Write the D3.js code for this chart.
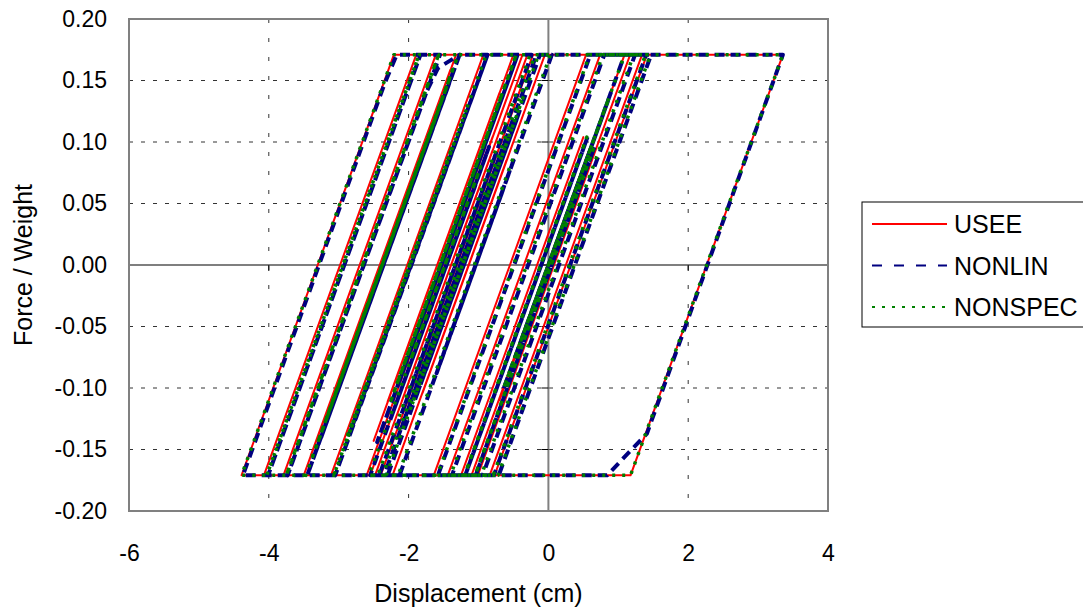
<!DOCTYPE html>
<html>
<head>
<meta charset="utf-8">
<script src="https://cdn.jsdelivr.net/npm/d3@7"></script>
<style>
  body { margin: 0; background: #fff; }
  text { font-family: "Liberation Sans", Arial, sans-serif; fill: #000; }
</style>
</head>
<body>
<script>
// axis ticks
const xTicks = [-6, -4, -2, 0, 2, 4];
const yTicks = [-0.2, -0.15, -0.1, -0.05, 0, 0.05, 0.1, 0.15, 0.2];

const seriesNames = ["USEE", "NONLIN", "NONSPEC"];

// [displacement (cm), force / weight] vertices
const usee = [
  [0, 0], [0.55, 0.086], [-0.45, -0.071], [0.8, 0.126], [-0.7, -0.11],
  [1.09, 0.171], [1.41, 0.171], [-0.77, -0.171], [-1.1, -0.171],
  [0.6, 0.096], [-1.1, -0.171], [-1.44, -0.171],
  [0.74, 0.171], [1.17, 0.171], [-1.01, -0.171], [-1.64, -0.171],
  [0.54, 0.171], [1.34, 0.171], [-0.84, -0.171], [-1.25, -0.171],
  [0.5, 0.104], [-1.25, -0.171], [-2.4, -0.171],
  [-0.5, 0.127], [-1.9, -0.093], [-0.3, 0.159], [-2.0, -0.108],
  [-0.22, 0.171], [-0.05, 0.171], [-1.8, -0.104], [-0.6, 0.085],
  [-2.23, -0.171], [-2.55, -0.171],
  [-0.8, 0.104], [-2.0, -0.085], [-0.6, 0.135], [-2.3, -0.132],
  [-0.37, 0.171], [3.355, 0.171], [1.175, -0.171], [-4.39, -0.171],
  [-2.21, 0.171], [-1.89, 0.171], [-4.07, -0.171], [-1.89, 0.171],
  [-1.61, 0.171], [-3.79, -0.171], [-1.61, 0.171], [-1.32, 0.171],
  [-3.3, -0.14], [-1.5, 0.143], [-3.4, -0.155], [-1.4, 0.159],
  [-3.5, -0.171], [-1.32, 0.171], [-0.93, 0.171], [-3.11, -0.171],
  [-1.4, 0.097], [-2.9, -0.138], [-0.93, 0.171], [-0.5, 0.171],
  [-2.3, -0.111], [-0.9, 0.108], [-2.5, -0.143], [-0.7, 0.14], [-2.2, -0.096],
  [-0.5, 0.171], [-0.3, 0.171], [-2.1, -0.111], [-0.8, 0.093],
  [-2.48, -0.171], [-2.6, -0.171],
  [-0.9, 0.096], [-2.3, -0.124], [-1.0, 0.08], [-2.0, -0.077],
  [-1.1, 0.064], [-1.8, -0.046], [-1.3, 0.033], [-1.6, -0.014]
];

const nonlin = [
  [0, 0], [0.6, 0.094], [-0.4, -0.063], [0.85, 0.133], [-0.65, -0.102],
  [1.09, 0.171], [1.47, 0.171], [-0.71, -0.171], [-1.04, -0.171],
  [0.66, 0.096], [-1.04, -0.171], [-1.38, -0.171],
  [0.8, 0.171], [1.24, 0.171], [-0.94, -0.171], [-1.58, -0.171],
  [0.6, 0.171], [1.4, 0.171], [-0.78, -0.171], [-1.19, -0.171],
  [0.56, 0.104], [-1.19, -0.171], [-2.3, -0.171],
  [-0.45, 0.119], [-1.75, -0.085], [-0.6, 0.096], [-1.9, -0.108],
  [-0.7, 0.08], [-1.6, -0.061], [-0.9, 0.049], [-1.7, -0.077],
  [-0.12, 0.171], [0.05, 0.171],
  [-1.6, -0.088], [-0.5, 0.085], [-1.45, -0.064], [-0.65, 0.061],
  [-1.3, -0.041], [-0.8, 0.038], [-2.13, -0.171], [-2.35, -0.171],
  [-0.7, 0.088], [-1.85, -0.093], [-0.5, 0.119], [-2.1, -0.132],
  [-0.9, 0.057], [-1.9, -0.1],
  [-0.17, 0.171], [3.355, 0.171], [1.41, -0.137], [0.84, -0.171], [-4.37, -0.171],
  [-2.34, 0.148], [-2.17, 0.171], [-1.83, 0.171], [-4.01, -0.171],
  [-1.83, 0.171], [-1.55, 0.171], [-3.73, -0.171],
  [-1.75, 0.14], [-1.58, 0.16], [-1.27, 0.171],
  [-3.25, -0.14], [-1.45, 0.143], [-3.35, -0.155], [-1.35, 0.159],
  [-3.45, -0.171], [-1.27, 0.171], [-0.87, 0.171], [-3.05, -0.171],
  [-1.35, 0.097], [-2.85, -0.138], [-0.87, 0.171], [-0.44, 0.171],
  [-2.25, -0.113], [-0.85, 0.107], [-2.45, -0.144], [-0.65, 0.138],
  [-2.15, -0.097], [-0.9, 0.099], [-1.95, -0.066],
  [-0.44, 0.171], [-0.24, 0.171], [-2.05, -0.113], [-0.75, 0.091],
  [-2.42, -0.171], [-2.55, -0.171],
  [-0.85, 0.096], [-2.25, -0.124], [-0.95, 0.08], [-1.95, -0.077],
  [-1.05, 0.064], [-1.75, -0.046], [-1.25, 0.033], [-1.55, -0.014]
];

const nonspec = [
  [0, 0], [0.61, 0.096], [-0.39, -0.061], [0.86, 0.135], [-0.64, -0.1],
  [1.09, 0.171], [1.46, 0.171], [-0.72, -0.171], [-1.05, -0.171],
  [0.64, 0.094], [-1.05, -0.171], [-1.4, -0.171],
  [0.78, 0.171], [1.22, 0.171], [-0.96, -0.171], [-1.59, -0.171],
  [0.59, 0.171], [1.39, 0.171], [-0.79, -0.171], [-1.2, -0.171],
  [0.55, 0.104], [-1.2, -0.171], [-2.32, -0.171],
  [-0.35, 0.138], [-1.98, -0.118], [-0.14, 0.171], [0.03, 0.171],
  [-2.15, -0.171], [-2.37, -0.171],
  [-0.19, 0.171], [3.355, 0.171], [1.175, -0.171], [-4.39, -0.171],
  [-2.21, 0.171], [-1.85, 0.171], [-4.03, -0.171], [-1.85, 0.171],
  [-1.57, 0.171], [-3.75, -0.171], [-1.57, 0.171], [-1.29, 0.171],
  [-3.27, -0.14], [-1.47, 0.143], [-3.37, -0.155], [-1.37, 0.159],
  [-3.18, -0.126], [-1.53, 0.133], [-3.33, -0.149], [-1.43, 0.149],
  [-3.47, -0.171], [-1.29, 0.171], [-0.89, 0.171], [-3.07, -0.171],
  [-1.37, 0.097], [-2.87, -0.138], [-1.17, 0.127], [-2.92, -0.148],
  [-1.07, 0.143], [-0.89, 0.171], [-0.46, 0.171],
  [-2.27, -0.113], [-0.67, 0.138], [-2.17, -0.097],
  [-0.46, 0.171], [-0.26, 0.171],
  [-2.44, -0.171], [-2.57, -0.171],
  [-0.97, 0.08], [-1.97, -0.077], [-1.27, 0.033], [-1.57, -0.014]
];

const width = 1083;
const height = 612;
const margin = { top: 19, right: 255, bottom: 101, left: 129 };
const plotRight = width - margin.right;
const plotBottom = height - margin.bottom;

const x = d3.scaleLinear().domain([-6, 4]).range([margin.left, plotRight]);
const y = d3.scaleLinear().domain([-0.2, 0.2]).range([plotBottom, margin.top]);

const styles = {
  USEE: { color: "#ff0000", dash: null, w: 2, legendDash: null, legendW: 2 },
  NONLIN: { color: "#000080", dash: "10,6", w: 4, legendDash: "10,12", legendW: 2 },
  NONSPEC: { color: "#008000", dash: "3,7", w: 3.5, legendDash: "3,7", legendW: 2 }
};
const series = [usee, nonlin, nonspec].map((pts, i) => ({
  name: seriesNames[i],
  pts
}));

const svg = d3
  .select("body")
  .append("svg")
  .attr("width", width)
  .attr("height", height);

// grid lines
svg
  .append("g")
  .selectAll("line")
  .data(yTicks.filter(d => d !== 0 && Math.abs(d) < 0.2))
  .join("line")
  .attr("x1", margin.left)
  .attr("x2", plotRight)
  .attr("y1", d => y(d))
  .attr("y2", d => y(d))
  .attr("stroke", "#333")
  .attr("stroke-dasharray", "4,8");

svg
  .append("g")
  .selectAll("line")
  .data(xTicks.filter(d => d !== 0 && d > -6 && d < 4))
  .join("line")
  .attr("x1", d => x(d))
  .attr("x2", d => x(d))
  .attr("y1", margin.top)
  .attr("y2", plotBottom)
  .attr("stroke", "#333")
  .attr("stroke-dasharray", "4,15");

// zero axes
svg
  .append("line")
  .attr("x1", x(0))
  .attr("x2", x(0))
  .attr("y1", margin.top)
  .attr("y2", plotBottom)
  .attr("stroke", "#808080")
  .attr("stroke-width", 2);

svg
  .append("line")
  .attr("x1", margin.left)
  .attr("x2", plotRight)
  .attr("y1", y(0))
  .attr("y2", y(0))
  .attr("stroke", "#000")
  .attr("stroke-width", 1.2);

// small cross ticks on the zero axes
svg
  .append("g")
  .selectAll("line")
  .data(xTicks)
  .join("line")
  .attr("x1", d => x(d))
  .attr("x2", d => x(d))
  .attr("y1", y(0))
  .attr("y2", y(0) + 6)
  .attr("stroke", "#000");

svg
  .append("g")
  .selectAll("line")
  .data(yTicks)
  .join("line")
  .attr("x1", x(0) - 7)
  .attr("x2", x(0))
  .attr("y1", d => y(d))
  .attr("y2", d => y(d))
  .attr("stroke", "#000");

// hysteresis loops
const line = d3
  .line()
  .x(d => x(d[0]))
  .y(d => y(d[1]));

svg
  .append("g")
  .selectAll("path")
  .data(series)
  .join("path")
  .attr("d", d => line(d.pts))
  .attr("fill", "none")
  .attr("stroke", d => styles[d.name].color)
  .attr("stroke-width", d => styles[d.name].w)
  .attr("stroke-dasharray", d => styles[d.name].dash)
  .attr("stroke-linejoin", "round");

// plot border
svg
  .append("rect")
  .attr("x", margin.left)
  .attr("y", margin.top)
  .attr("width", plotRight - margin.left)
  .attr("height", plotBottom - margin.top)
  .attr("fill", "none")
  .attr("stroke", "#808080")
  .attr("stroke-width", 2);

// axes labels
const yAxis = svg
  .append("g")
  .attr("transform", `translate(${margin.left},0)`)
  .call(
    d3
      .axisLeft(y)
      .tickValues(yTicks)
      .tickFormat(d => d.toFixed(2))
      .tickSize(0)
      .tickPadding(22)
  );
yAxis.select(".domain").remove();
yAxis.selectAll("text").style("font-size", "23px").attr("fill", "#000");

const xAxis = svg
  .append("g")
  .attr("transform", `translate(0,${plotBottom})`)
  .call(
    d3
      .axisBottom(x)
      .tickValues(xTicks)
      .tickFormat(d => String(d))
      .tickSize(0)
      .tickPadding(34)
  );
xAxis.select(".domain").remove();
xAxis.selectAll("text").style("font-size", "23px").attr("fill", "#000");

svg
  .append("text")
  .attr("x", (margin.left + plotRight) / 2)
  .attr("y", 602)
  .attr("text-anchor", "middle")
  .style("font-size", "25px")
  .text("Displacement (cm)");

svg
  .append("text")
  .attr("transform", `translate(32,${(margin.top + plotBottom) / 2}) rotate(-90)`)
  .attr("text-anchor", "middle")
  .style("font-size", "25px")
  .text("Force / Weight");

// legend
const legend = svg.append("g").attr("transform", "translate(862,202)");
legend
  .append("rect")
  .attr("width", 230)
  .attr("height", 125)
  .attr("fill", "#fff")
  .attr("stroke", "#000");

const rows = legend
  .selectAll("g")
  .data(seriesNames)
  .join("g")
  .attr("transform", (d, i) => `translate(0,${22 + i * 41.5})`);

rows
  .append("line")
  .attr("x1", 10)
  .attr("x2", 85)
  .attr("stroke", d => styles[d].color)
  .attr("stroke-width", d => styles[d].legendW)
  .attr("stroke-dasharray", d => styles[d].legendDash);

rows
  .append("text")
  .attr("x", 92)
  .attr("dy", "0.36em")
  .style("font-size", "25px")
  .text(d => d);
</script>
</body>
</html>
